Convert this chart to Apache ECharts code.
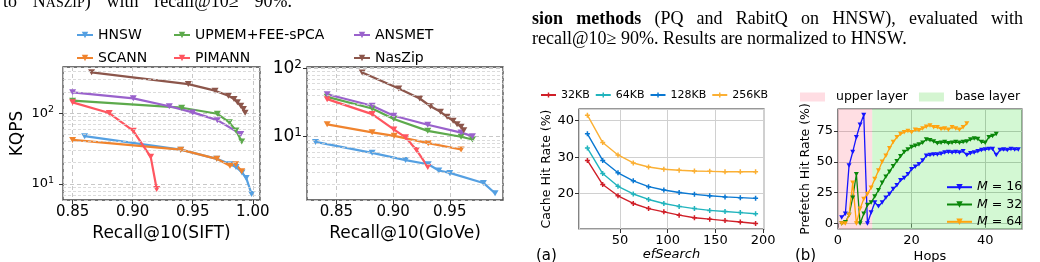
<!DOCTYPE html>
<html>
<head>
<meta charset="utf-8">
<title>figure</title>
<script src="https://cdn.jsdelivr.net/npm/echarts@6.0.0/dist/echarts.min.js"></script>
<style>
  html, body { margin: 0; padding: 0; background: #fff; }
  #chart { width: 1040px; height: 262px; }
</style>
</head>
<body>
<div id="chart"></div>
<script>
// ---------- left figure: KQPS vs recall (SIFT / GloVe) ----------
// [recall, KQPS]
const siftHNSW = [[0.860, 47.5], [0.940, 30.6], [0.970, 22.7], [0.981, 19.1], [0.986, 17.4], [0.991, 14.6], [0.9945, 12.2], [0.999, 7.2]];
const siftSCANN = [[0.850, 42], [0.940, 30.6], [0.970, 22.7], [0.981, 18.1], [0.9858, 19.0], [0.9908, 15.2]];
const siftUPMEM = [[0.850, 151], [0.9408, 120], [0.9705, 98.5], [0.9805, 74.5], [0.986, 57], [0.9908, 40]];
const siftPIMANN = [[0.850, 143], [0.8805, 101], [0.9005, 56.5], [0.915, 24.2], [0.920, 8.5]];
const siftANSMET = [[0.850, 198], [0.9005, 163], [0.9305, 126], [0.950, 103], [0.9705, 80], [0.990, 51]];
const siftNasZip = [[0.8658, 380], [0.9463, 259], [0.9686, 209], [0.9797, 177], [0.9844, 159], [0.9872, 143], [0.990, 128], [0.9922, 115], [0.9936, 102]];

const gloveHNSW = [[0.8315, 8.4], [0.8815, 5.8], [0.911, 4.55], [0.931, 3.95], [0.9403, 3.2], [0.950, 2.95], [0.9797, 2.1], [0.990, 1.48]];
const gloveSCANN = [[0.8418, 15.2], [0.8815, 11.6], [0.901, 10.3], [0.931, 8.05], [0.960, 6.5]];
const gloveUPMEM = [[0.8418, 38.5], [0.8815, 26], [0.9006, 18.2], [0.9306, 12.2], [0.960, 10], [0.970, 9.1]];
const glovePIMANN = [[0.8418, 35.6], [0.8815, 21.5], [0.9006, 12.8], [0.911, 9.8], [0.9206, 6.4], [0.9306, 3.6]];
const gloveANSMET = [[0.8418, 42], [0.8815, 28.5], [0.9006, 20.3], [0.9306, 15], [0.960, 11.5], [0.970, 10.2]];
const gloveNasZip = [[0.8727, 87.4], [0.905, 51], [0.9235, 36.4], [0.933, 28], [0.9418, 23.2], [0.9477, 19.6], [0.953, 17.1], [0.9565, 15.3], [0.960, 14], [0.9624, 12.5]];

// minor log grid lines (2..9 x 10^n)
const siftMinorTicks = [7, 8, 9, 20, 30, 40, 50, 60, 70, 80, 90, 200, 300, 400];
const gloveMinorTicks = [2, 3, 4, 5, 6, 7, 8, 9, 20, 30, 40, 50, 60, 70, 80, 90];

// ---------- (a) cache hit rate ----------
const efSearch = [16, 32, 48, 64, 80, 96, 112, 128, 144, 160, 176, 192];
const hit32KB = [29.1, 22.5, 19.4, 17.3, 15.9, 15.0, 14.1, 13.4, 13.0, 12.6, 12.2, 11.8];
const hit64KB = [32.5, 25.5, 22.0, 19.9, 18.4, 17.3, 16.5, 15.9, 15.4, 15.1, 14.8, 14.5];
const hit128KB = [36.4, 29.1, 25.7, 23.5, 21.9, 21.0, 20.3, 19.8, 19.4, 19.1, 18.9, 18.7];
const hit256KB = [41.5, 34.0, 30.6, 28.4, 27.3, 26.7, 26.4, 26.2, 26.1, 26.0, 26.0, 26.0];

// ---------- (b) prefetch hit rate per hop (hop 1, 2, 3 ...) ----------
const prefetchM16 = [5, 8, 47, 58, 70, 80, 88, 0, 9, 17, 14, 17, 21, 24, 28, 31, 35, 37, 40, 44, 46, 48, 51, 55,
  55.5, 56, 56, 56.5, 57.5, 58, 57.5, 58, 57.5, 58.5, 55.5, 57, 57.5, 58.5, 59.5, 60, 60.5, 60.5, 55.5, 59.5,
  60, 59.5, 60.5, 60, 60];
const prefetchM32 = [0, 1, 7, 21, 40, 0, 8, 15, 17, 22, 27, 33, 38, 42, 46.5, 50.5, 54.5, 58, 60, 62, 63, 64,
  65.5, 68, 67.5, 66.5, 65, 65.5, 66, 65, 65.5, 66, 65.5, 66, 66.5, 68, 69, 68.5, 66, 65.5, 70, 71, 72.5];
const prefetchM64 = [0, 0, 7, 33, 0, 12, 20, 24, 29, 36, 43, 50, 55, 61, 66, 70, 72.5, 74, 75, 74, 76, 75.5,
  77, 78.5, 79.5, 78, 78, 76.5, 77, 76, 78, 77, 76, 78, 81];
const layerBounds = [0, 9.3, 50]; // upper layer | base layer

const SANS = 'DejaVu Sans';
const SERIF = 'Liberation Serif';
const TRI = 'path://M0,0L10,0L5,9Z';
const PLUS = 'path://M3.5,0H6.5V3.5H10V6.5H6.5V10H3.5V6.5H0V3.5H3.5Z';

const colors = {
  HNSW: '#55a0e2', SCANN: '#f0842e', 'UPMEM+FEE-sPCA': '#5daa4c',
  PIMANN: '#ff5660', ANSMET: '#9a62cc', NasZip: '#8c564b'
};

function perfLine(name, data, g) {
  return {
    name: name, type: 'line', xAxisIndex: g, yAxisIndex: g, data: data,
    color: colors[name],
    lineStyle: { width: 2.2, color: colors[name] },
    itemStyle: { color: colors[name] },
    symbol: TRI, symbolSize: [7, 6], z: 3
  };
}
function hitLine(name, ys, color) {
  return {
    name: name, type: 'line', xAxisIndex: 2, yAxisIndex: 2,
    data: efSearch.map((x, i) => [x, ys[i]]),
    color: color, lineStyle: { width: 1.4, color: color }, itemStyle: { color: color },
    symbol: PLUS, symbolSize: 5, z: 3
  };
}
function hopLine(name, ys, color) {
  return {
    name: name, type: 'line', xAxisIndex: 3, yAxisIndex: 3,
    data: ys.map((v, i) => [i + 1, v]),
    color: color, lineStyle: { width: 1.3, color: color }, itemStyle: { color: color },
    symbol: TRI, symbolSize: [5, 4.5], z: 3
  };
}
function minorLines(g, ticks) {
  return {
    name: '', type: 'line', xAxisIndex: g, yAxisIndex: g, data: [], silent: true, z: 1,
    markLine: {
      silent: true, symbol: ['none', 'none'], label: { show: false }, animation: false,
      lineStyle: { type: [3, 2], color: '#d2d2d2', width: 0.8 },
      emphasis: { disabled: true },
      data: ticks.map(v => ({ yAxis: v }))
    }
  };
}
const tickStyle = { show: true, length: 4, lineStyle: { color: '#333' } };
const supRich = (size) => ({ sup: { fontSize: size, fontFamily: SANS, color: '#000', verticalAlign: 'bottom', padding: [0, 0, size * 0.7, 0] } });
const logLabel = v => '10{sup|' + Math.round(Math.log10(v)) + '}';
const legendText = (size, lh) => ({ fontSize: size, color: '#000', fontFamily: SANS, lineHeight: lh });

const chart = echarts.init(document.getElementById('chart'));

const option = {
  animation: false,
  textStyle: { fontFamily: SANS },
  grid: [
    { left: 63, top: 67, width: 197, height: 133, show: true, borderColor: '#444', borderWidth: 1.3, outerBoundsMode: 'none' },
    { left: 307, top: 67, width: 196, height: 133, show: true, borderColor: '#444', borderWidth: 1.3, outerBoundsMode: 'none' },
    { left: 579, top: 109, width: 185, height: 120, show: true, borderColor: '#333', borderWidth: 1.2, outerBoundsMode: 'none' },
    { left: 838, top: 109, width: 184, height: 120, show: true, borderColor: '#333', borderWidth: 1.2, outerBoundsMode: 'none' }
  ],
  legend: [
    { data: ['HNSW', 'SCANN'], orient: 'vertical', left: 76, top: 27, padding: 0, itemGap: 7, itemWidth: 16, itemHeight: 8,
      textStyle: legendText(14, 16) },
    { data: ['UPMEM+FEE-sPCA', 'PIMANN'], orient: 'vertical', left: 173, top: 27, padding: 0, itemGap: 7, itemWidth: 16, itemHeight: 8,
      textStyle: legendText(14, 16) },
    { data: ['ANSMET', 'NasZip'], orient: 'vertical', left: 353, top: 27, padding: 0, itemGap: 7, itemWidth: 16, itemHeight: 8,
      textStyle: legendText(14, 16) },
    { data: ['32KB', '64KB', '128KB', '256KB'], orient: 'horizontal', left: 540, top: 89, padding: 0, itemGap: 5, itemWidth: 15, itemHeight: 6,
      textStyle: legendText(11, 12) },
    { data: ['upper layer', 'base layer'], orient: 'horizontal', left: 800, top: 90, padding: 0, itemGap: 11, itemWidth: 25, itemHeight: 9,
      icon: 'rect', textStyle: Object.assign(legendText(12.5, 14), { padding: [0, 0, 0, 6] }) },
    { data: ['M = 16', 'M = 32', 'M = 64'], orient: 'vertical', left: 946, top: 180.7, padding: 0, itemGap: 4.3, itemWidth: 25, itemHeight: 8,
      formatter: n => n.replace('M', '{i|M}'),
      textStyle: Object.assign(legendText(12.5, 12), { rich: { i: { fontStyle: 'italic', fontSize: 12.5, fontFamily: SANS, color: '#000' } } }) }
  ],
  xAxis: [
    { gridIndex: 0, type: 'value', min: 0.842, max: 1.006, minInterval: 0.05, maxInterval: 0.05,
      axisLine: { show: false }, axisTick: tickStyle,
      axisLabel: { fontSize: 15, color: '#000', margin: 5, showMinLabel: false, showMaxLabel: false, formatter: v => v.toFixed(2) },
      splitLine: { show: true, lineStyle: { type: [4, 3], color: '#c8c8c8', width: 1 } },
      name: 'Recall@10(SIFT)', nameLocation: 'middle', nameGap: 14, nameTextStyle: { fontSize: 17, color: '#000' } },
    { gridIndex: 1, type: 'value', min: 0.824, max: 0.997, minInterval: 0.05, maxInterval: 0.05,
      axisLine: { show: false }, axisTick: tickStyle,
      axisLabel: { fontSize: 15, color: '#000', margin: 5, showMinLabel: false, showMaxLabel: false, formatter: v => v.toFixed(2) },
      splitLine: { show: true, lineStyle: { type: [4, 3], color: '#c8c8c8', width: 1 } },
      name: 'Recall@10(GloVe)', nameLocation: 'middle', nameGap: 14, nameTextStyle: { fontSize: 17, color: '#000' } },
    { gridIndex: 2, type: 'value', min: 7.2, max: 200.8, minInterval: 50, maxInterval: 50,
      axisLine: { show: false }, axisTick: tickStyle,
      axisLabel: { fontSize: 13, color: '#000', margin: 5, showMinLabel: false, showMaxLabel: false },
      splitLine: { show: true, lineStyle: { color: '#d0d0d0', width: 1 } },
      name: 'efSearch', nameLocation: 'middle', nameGap: 19, nameTextStyle: { fontSize: 13, fontStyle: 'italic', color: '#000' } },
    { gridIndex: 3, type: 'value', min: 0, max: 50, minInterval: 20, maxInterval: 20,
      axisLine: { show: false }, axisTick: tickStyle,
      axisLabel: { fontSize: 13, color: '#000', margin: 5, showMaxLabel: false },
      splitLine: { show: true, lineStyle: { color: '#b4b4b4', width: 1 } },
      name: 'Hops', nameLocation: 'middle', nameGap: 21, nameTextStyle: { fontSize: 13, color: '#000' } }
  ],
  yAxis: [
    { gridIndex: 0, type: 'log', logBase: 10, min: 5.94, max: 452,
      axisLine: { show: false }, axisTick: tickStyle,
      axisLabel: { fontSize: 13, color: '#000', margin: 9, showMinLabel: false, showMaxLabel: false, formatter: logLabel, rich: supRich(9.5) },
      splitLine: { show: true, lineStyle: { type: [4, 3], color: '#c8c8c8', width: 1 } },
      name: 'KQPS', nameLocation: 'middle', nameGap: 37, nameTextStyle: { fontSize: 17, color: '#000' } },
    { gridIndex: 1, type: 'log', logBase: 10, min: 1.18, max: 105.5,
      axisLine: { show: false }, axisTick: tickStyle,
      axisLabel: { fontSize: 17, color: '#000', margin: 5, showMinLabel: false, showMaxLabel: false, formatter: logLabel, rich: supRich(12) },
      splitLine: { show: true, lineStyle: { type: [4, 3], color: '#c8c8c8', width: 1 } } },
    { gridIndex: 2, type: 'value', min: 10.3, max: 43.2, minInterval: 10, maxInterval: 10,
      axisLine: { show: false }, axisTick: tickStyle,
      axisLabel: { fontSize: 13, color: '#000', margin: 5, showMinLabel: false, showMaxLabel: false },
      splitLine: { show: true, lineStyle: { color: '#d0d0d0', width: 1 } },
      name: 'Cache Hit Rate (%)', nameLocation: 'middle', nameGap: 25, nameTextStyle: { fontSize: 12.5, color: '#000' } },
    { gridIndex: 3, type: 'value', min: -4.4, max: 92.8, minInterval: 25, maxInterval: 25,
      axisLine: { show: false }, axisTick: tickStyle,
      axisLabel: { fontSize: 13, color: '#000', margin: 5, showMinLabel: false, showMaxLabel: false },
      splitLine: { show: true, lineStyle: { color: '#b4b4b4', width: 1 } },
      name: 'Prefetch Hit Rate (%)', nameLocation: 'middle', nameGap: 24, nameTextStyle: { fontSize: 12.5, color: '#000' } }
  ],
  series: [
    minorLines(0, siftMinorTicks),
    minorLines(1, gloveMinorTicks),
    // SIFT
    perfLine('HNSW', siftHNSW, 0),
    perfLine('SCANN', siftSCANN, 0),
    perfLine('UPMEM+FEE-sPCA', siftUPMEM, 0),
    perfLine('PIMANN', siftPIMANN, 0),
    perfLine('ANSMET', siftANSMET, 0),
    perfLine('NasZip', siftNasZip, 0),
    // GloVe
    perfLine('HNSW', gloveHNSW, 1),
    perfLine('SCANN', gloveSCANN, 1),
    perfLine('UPMEM+FEE-sPCA', gloveUPMEM, 1),
    perfLine('PIMANN', glovePIMANN, 1),
    perfLine('ANSMET', gloveANSMET, 1),
    perfLine('NasZip', gloveNasZip, 1),
    // (a)
    hitLine('32KB', hit32KB, '#d01f28'),
    hitLine('64KB', hit64KB, '#21b4bd'),
    hitLine('128KB', hit128KB, '#0a78d2'),
    hitLine('256KB', hit256KB, '#fbb034'),
    // (b) layer bands
    { name: 'upper layer', type: 'line', xAxisIndex: 3, yAxisIndex: 3, data: [], color: '#ffdde3', itemStyle: { color: '#ffdde3' }, z: 1,
      markArea: { silent: true, itemStyle: { color: 'rgba(255,182,193,0.45)' }, data: [[{ xAxis: layerBounds[0] }, { xAxis: layerBounds[1] }]] } },
    { name: 'base layer', type: 'line', xAxisIndex: 3, yAxisIndex: 3, data: [], color: '#d4f5d1', itemStyle: { color: '#d4f5d1' }, z: 1,
      markArea: { silent: true, itemStyle: { color: 'rgba(144,238,144,0.4)' }, data: [[{ xAxis: layerBounds[1] }, { xAxis: layerBounds[2] }]] } },
    hopLine('M = 16', prefetchM16, '#1414ff'),
    hopLine('M = 32', prefetchM32, '#0a870a'),
    hopLine('M = 64', prefetchM64, '#ffa40f')
  ],
  graphic: [
    // caption text around the figures
    { type: 'text', x: 3, y: 2.6, silent: true,
      style: { text: 'to{s| }N{sc|ASZIP}){s| }with{s| }recall@10≥{s| }90%.', fontSize: 18, fontFamily: SERIF, fill: '#000', verticalAlign: 'middle',
        rich: { s: { width: 15.8, fontSize: 18, fontFamily: SERIF }, sc: { fontSize: 14, fontFamily: SERIF, verticalAlign: 'bottom', padding: [0, 0, 1, 0] } } } },
    { type: 'text', x: 532, y: 19, silent: true,
      style: { text: '{b|sion}{s| }{b|methods}{s| }(PQ{s| }and{s| }RabitQ{s| }on{s| }HNSW),{s| }evaluated{s| }with', fontSize: 18, fontFamily: SERIF, fill: '#000', verticalAlign: 'middle',
        rich: { b: { fontWeight: 'bold', fontSize: 18, fontFamily: SERIF }, s: { width: 13.2, fontSize: 18, fontFamily: SERIF } } } },
    { type: 'text', x: 532, y: 39.5, silent: true,
      style: { text: 'recall@10≥ 90%. Results are normalized to HNSW.', fontSize: 18, fontFamily: SERIF, fill: '#000', verticalAlign: 'middle' } },
    { type: 'text', x: 536, y: 249, silent: true, style: { text: '(a)', fontSize: 15, fontFamily: SANS, fill: '#000' } },
    { type: 'text', x: 795, y: 249, silent: true, style: { text: '(b)', fontSize: 15, fontFamily: SANS, fill: '#000' } }
  ]
};

chart.setOption(option);
</script>
</body>
</html>
